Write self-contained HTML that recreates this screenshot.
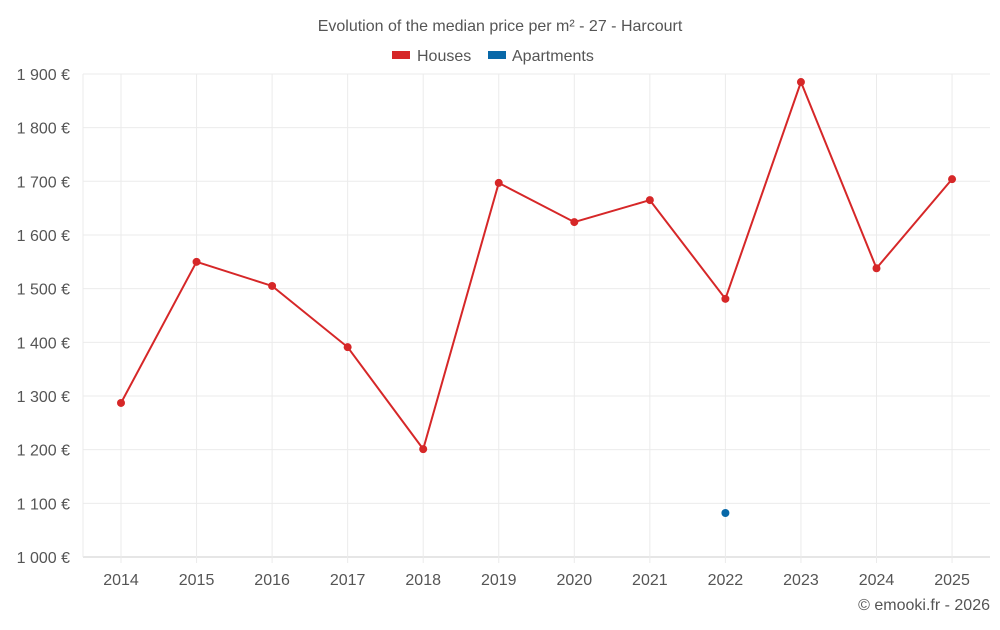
<!DOCTYPE html>
<html><head><meta charset="utf-8"><style>
body{margin:0;background:#fff;font-family:"Liberation Sans",sans-serif}
svg text{font-family:"Liberation Sans",sans-serif;fill:#555}
</style></head><body>
<svg width="1000" height="625">
<text x="500" y="31" text-anchor="middle" font-size="16">Evolution of the median price per m² - 27 - Harcourt</text>
<g>
<rect x="392" y="51" width="18" height="8" fill="#d62728"/>
<text x="417" y="61" font-size="16">Houses</text>
<rect x="488" y="51" width="18" height="8" fill="#0868a8"/>
<text x="512" y="61" font-size="16">Apartments</text>
</g>
<g id="grid"></g><g id="axes"></g><g id="series"></g>
<text x="990" y="610" text-anchor="end" font-size="16">© emooki.fr - 2026</text>
</svg>
<script>
const years=[2014,2015,2016,2017,2018,2019,2020,2021,2022,2023,2024,2025];
const houses=[1287,1550,1505,1391,1201,1697,1624,1665,1481,1885,1538,1704];
const apartments=[null,null,null,null,null,null,null,null,1082,null,null,null];
const yTicks=[1000,1100,1200,1300,1400,1500,1600,1700,1800,1900];
const NS="http://www.w3.org/2000/svg";
const x=i=>121+i*75.55;
const y=v=>557-(v-1000)*0.5367;
function mk(t,a,p){const e=document.createElementNS(NS,t);for(const k in a)e.setAttribute(k,a[k]);p.appendChild(e);return e;}
const g=document.getElementById('grid'),ax=document.getElementById('axes'),s=document.getElementById('series');
yTicks.forEach(v=>{
 const l=mk('line',{x1:83,x2:990,y1:y(v),y2:y(v),stroke:v===1000?'#ccc':'#ebebeb'},g);
 
 
 const t=mk('text',{x:70,y:y(v)+6,'text-anchor':'end','font-size':16},ax);
 t.textContent=String(v).replace(/(\d)(\d{3})$/,'$1 $2')+' €';
 
 
});
mk('line',{x1:83,x2:83,y1:74,y2:557,stroke:'#ebebeb'},g);
years.forEach((yr,i)=>{
 const l=mk('line',{x1:x(i),x2:x(i),y1:74,y2:563,stroke:'#ebebeb'},g);
 
 
 const t=mk('text',{x:x(i),y:585,'text-anchor':'middle','font-size':16},ax);
 t.textContent=yr;
 
 
});
const line=mk('polyline',{points:houses.map((v,i)=>x(i)+','+y(v)).join(' '),fill:'none',stroke:'#d62728','stroke-width':2},s);


houses.forEach((v,i)=>{
 const c=mk('circle',{cx:x(i),cy:y(v),r:4,fill:'#d62728'},s);
 
 
});
apartments.forEach((v,i)=>{
 if(v==null)return;
 const c=mk('circle',{cx:x(i),cy:y(v),r:4,fill:'#0868a8'},s);
 
 
});
</script>
</body></html>
